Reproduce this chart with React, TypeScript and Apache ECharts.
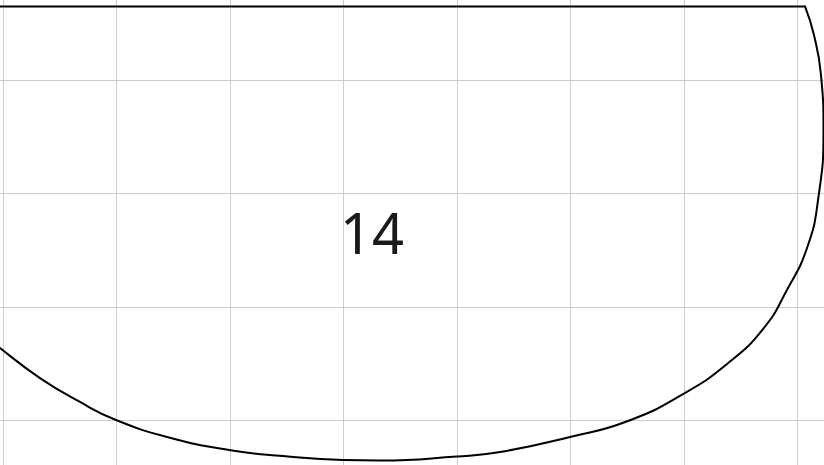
import React, { useEffect, useRef } from "react";
import * as echarts from "echarts";

// Flat top edge of the shape, in grid units (1 unit = one grid cell)
const topEdgeX: number[] = [-0.4, 7.066];
const topEdgeY: number[] = [0.648, 0.648];

// Curved outline of the shape, in grid units
const outlineX: number[] = [
  7.066, 7.145, 7.207, 7.229, 7.181, 7.084, 6.907, 6.696, 6.379, 5.991, 5.507,
  4.996, 4.379, 4.0, 3.322, 2.996, 2.467, 1.991, 1.445, 0.996, 0.678, 0.326,
  -0.026, -0.203,
];
const outlineY: number[] = [
  0.648, 0.396, 0.044, -0.441, -1.057, -1.48, -1.85, -2.194, -2.502, -2.767,
  -3.004, -3.145, -3.278, -3.317, -3.352, -3.348, -3.313, -3.26, -3.145,
  -2.996, -2.837, -2.626, -2.361, -2.211,
];
const centerLabel = "14";
const labelPos: [number, number] = [3.251, -1.339];

export default function App() {
  const ref = useRef<HTMLDivElement>(null);
  useEffect(() => {
    if (!ref.current) return;
    const chart = echarts.init(ref.current, undefined, { renderer: "svg" });
    const topData = topEdgeX.map((x, i) => [x, topEdgeY[i]]);
    const curveData = outlineX.map((x, i) => [x, outlineY[i]]);
    chart.setOption({
      animation: false,
      backgroundColor: "#fff",
      grid: {
        left: -110.5,
        top: -33.5,
        width: 1021.5,
        height: 567.5,
        containLabel: false,
        outerBoundsMode: "none",
      },
      xAxis: {
        type: "value",
        min: -1,
        max: 8,
        interval: 1,
        axisLine: { show: false },
        axisTick: { show: false },
        axisLabel: { show: false },
        splitLine: { show: true, lineStyle: { color: "#cccccc", width: 1 } },
      },
      yAxis: {
        type: "value",
        min: -4,
        max: 1,
        interval: 1,
        axisLine: { show: false },
        axisTick: { show: false },
        axisLabel: { show: false },
        splitLine: { show: true, lineStyle: { color: "#cccccc", width: 1 } },
      },
      series: [
        {
          type: "line",
          data: topData,
          symbol: "none",
          clip: false,
          lineStyle: { color: "#000", width: 2, cap: "round", join: "round" },
          silent: true,
        },
        {
          type: "line",
          data: curveData,
          smooth: 0.5,
          symbol: "none",
          clip: false,
          lineStyle: { color: "#000", width: 2, cap: "round", join: "round" },
          silent: true,
        },
        {
          type: "scatter",
          data: [labelPos],
          symbolSize: 0,
          itemStyle: { opacity: 1 },
          label: {
            show: true,
            position: "inside",
            formatter: centerLabel,
            fontFamily: "Noto Sans",
            fontSize: 56,
            color: "#1a1a1a",
            opacity: 1,
          },
          silent: true,
        },
      ],
    });
    return () => chart.dispose();
  }, []);
  return (
    <div
      ref={ref}
      style={{ position: "fixed", left: 0, top: 0, width: 824, height: 465 }}
    />
  );
}
